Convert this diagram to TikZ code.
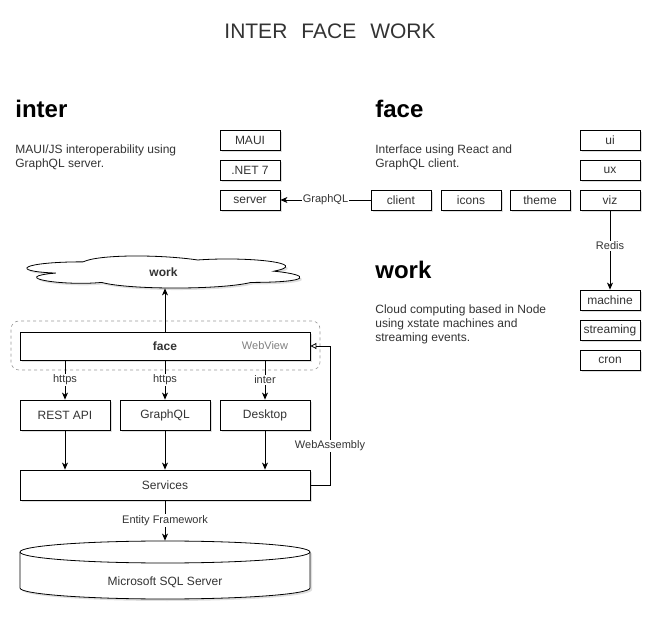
\documentclass[tikz,border=0pt]{standalone}
\usepackage{fontspec}
\setmainfont{Liberation Sans}
\usetikzlibrary{arrows.meta,shadows}

\definecolor{ink}{HTML}{333333}

\begin{document}
\begin{tikzpicture}[x=1pt,y=-1pt,line width=0.8pt,>={Stealth[length=7pt,width=6pt,inset=2pt]},
  shade/.style={drop shadow={opacity=.25,shadow xshift=2pt,shadow yshift=-2pt}},
  box/.style={draw,fill=white,shade,inner sep=0pt,minimum width=60pt,minimum height=20pt,
    text=ink,font=\fontsize{12}{14}\selectfont},
  wide/.style={box,minimum width=90pt,minimum height=30pt},
  layer/.style={box,minimum width=290pt,minimum height=30pt},
  head/.style={anchor=base west,inner sep=0pt,font=\fontsize{24}{28}\selectfont\bfseries},
  blurb/.style={anchor=north west,inner sep=0pt,align=left,text=ink,font=\fontsize{12}{14.3}\selectfont},
  lbl/.style={fill=white,inner sep=1pt,text=ink,font=\fontsize{11}{13}\selectfont},
  plain/.style={inner sep=0pt,text=ink,font=\fontsize{12}{14}\selectfont}]
 \useasboundingbox (0,0) rectangle (667,617);

 \node[text=ink,font=\fontsize{21}{25}\selectfont] (title) at (330,31) {INTER\hspace{14pt}FACE\hspace{14pt}WORK};

 % inter
 \node[head] (interhead) at (15,118) {inter};
 \node[blurb] (intertext) at (15,144) {MAUI/JS interoperability using\\GraphQL server.};
 \node[box] (maui) at (250,140) {MAUI};
 \node[box] (net) at (250,170) {.NET 7};
 \node[box] (server) at (250,200) {server};

 % face
 \node[head] (facehead) at (375,118) {face};
 \node[blurb] (facetext) at (375,144) {Interface using React and\\GraphQL client.};
 \node[box] (client) at (401,200) {client};
 \node[box] (icons) at (471,200) {icons};
 \node[box] (theme) at (540,200) {theme};
 \node[box] (viz) at (610,200) {viz};
 \node[box] (ui) at (610,140) {ui};
 \node[box] (ux) at (610,170) {ux};

 % work
 \node[head] (workhead) at (375,279) {work};
 \node[blurb] (worktext) at (375,304) {Cloud computing based in Node\\using xstate machines and\\streaming events.};
 \node[box] (machine) at (610,300) {machine};
 \node[box] (streaming) at (610,330) {streaming};
 \node[box] (cron) at (610,360) {cron};

 \draw[->] (client) -- node[lbl] {GraphQL} (server);
 \draw[->] (viz) -- node[lbl,pos=.45] {Redis} (machine);

 % stack
 \begin{scope}[shift={(7,252.5)},x=305pt,y=-37.4pt]
  \draw[fill=white,shade] (0.25,0.25) .. controls (0.05,0.25) and (0,0.5) .. (0.16,0.55)
   .. controls (0,0.66) and (0.18,0.9) .. (0.31,0.8)
   .. controls (0.4,1) and (0.7,1) .. (0.8,0.8)
   .. controls (1,0.8) and (1,0.6) .. (0.875,0.5)
   .. controls (1,0.3) and (0.8,0.1) .. (0.625,0.2)
   .. controls (0.5,0.05) and (0.3,0.05) .. (0.25,0.25) -- cycle;
 \end{scope}
 \node[plain,minimum width=273pt,minimum height=32pt,font=\fontsize{12}{14}\selectfont\bfseries] (cloud) at (163.5,272) {work};
 \node[draw=black!40,line width=0.6pt,dashed,rounded corners=8pt,minimum width=309pt,minimum height=49pt] (group) at (165.5,345.5) {};
 \node[box,minimum width=290pt,minimum height=28pt,font=\fontsize{12}{14}\selectfont\bfseries] (face) at (165,346) {face};
 \node[text=black!50,font=\fontsize{11}{13}\selectfont] (webview) at (265,346) {WebView};
 \node[wide] (rest) at (65,415) {REST API};
 \node[wide] (gql) at (165,415) {GraphQL};
 \node[wide] (desktop) at (265,415) {Desktop};
 \node[layer] (services) at (165,485) {Services};
 \draw[fill=white,shade] (20,552) -- (20,588) arc[start angle=180,end angle=0,x radius=145,y radius=11]
  -- (310,552) arc[start angle=0,end angle=-180,x radius=145,y radius=11] -- cycle;
 \draw (20,552) arc[start angle=180,end angle=0,x radius=145,y radius=11];
 \node[plain,minimum width=290pt,minimum height=58pt] (db) at (165,570) {};
 \node[plain] (dblabel) at (165,582) {Microsoft SQL Server};
 \coordinate (wasm) at (330,346);

 \draw[->] (face) -- (face |- cloud.south);
 \draw[->] (face.south -| rest) -- node[lbl] {https} (rest);
 \draw[->] (face.south -| gql) -- node[lbl] {https} (gql);
 \draw[->] (face.south -| desktop) -- node[lbl] {inter} (desktop);
 \draw[->] (rest) -- (services.north -| rest);
 \draw[->] (gql) -- (services.north -| gql);
 \draw[->] (desktop) -- (services.north -| desktop);
 \draw (services.east) -| node[lbl,pos=.64] {WebAssembly} (wasm);
 \draw[-{Triangle[open,length=6pt,width=6pt]}] (wasm) -- (face.east);
 \draw[->] (services) -- node[lbl] {Entity Framework} (db.north);
\end{tikzpicture}
\end{document}
